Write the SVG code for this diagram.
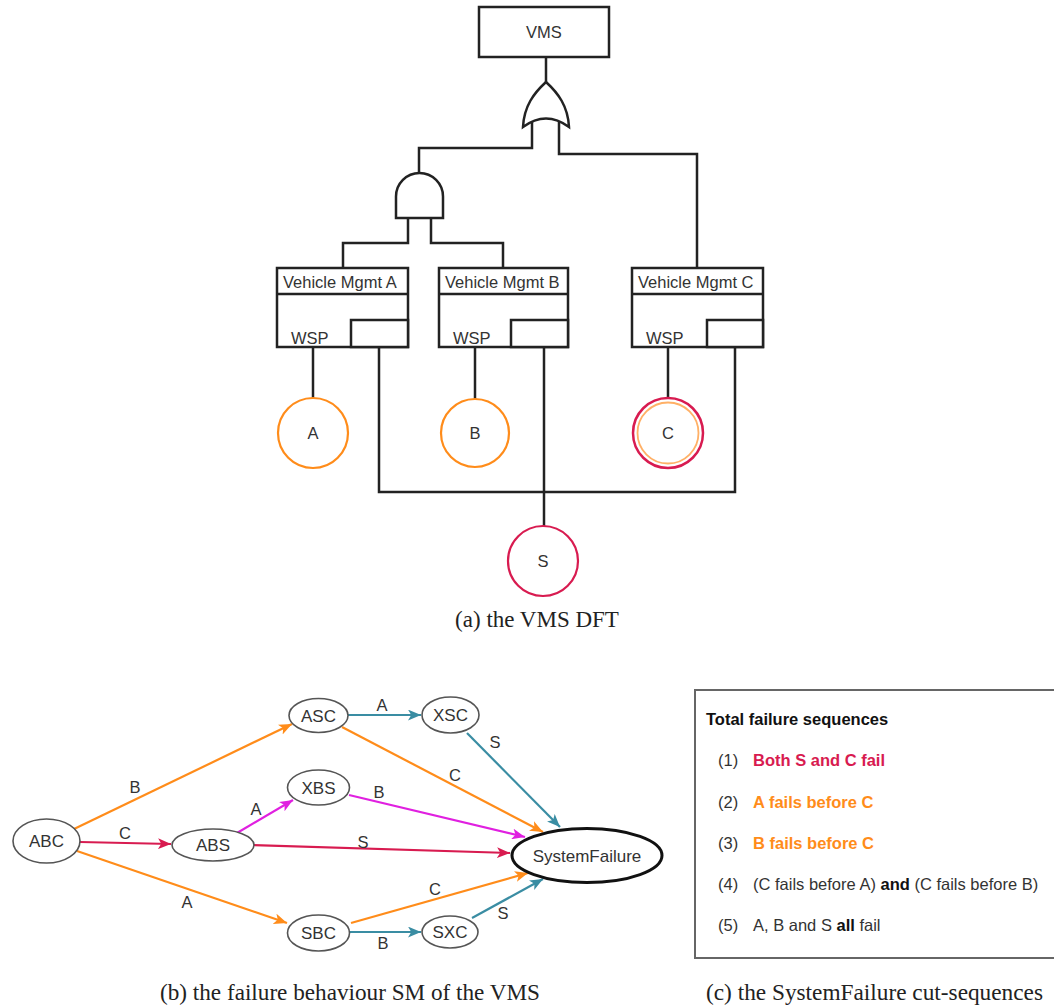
<svg xmlns="http://www.w3.org/2000/svg" width="1054" height="1008" viewBox="0 0 1054 1008">
  <style>
    .wire { fill: none; stroke: #222; stroke-width: 2.5; }
    .box { fill: #fff; stroke: #222; stroke-width: 2.5; }
    .lbl { font-family: "Liberation Sans", Arial, sans-serif; font-size: 16.5px; fill: #333; }
    .mid { text-anchor: middle; }
    .st { fill: #fff; stroke: #555; stroke-width: 1.6; }
    .stt { font-family: "Liberation Sans", Arial, sans-serif; font-size: 17px; fill: #333; text-anchor: middle; }
    .edge { fill: none; stroke-width: 2.2; }
    .el { font-family: "Liberation Sans", Arial, sans-serif; font-size: 16.5px; fill: #333; text-anchor: middle; }
    .cap { font-family: "Liberation Serif", "Times New Roman", serif; font-size: 23px; fill: #222; }
    .tb { font-family: "Liberation Sans", Arial, sans-serif; font-size: 16.5px; fill: #333; }
    .bold { font-weight: bold; }
    .dark { fill: #111; }
    .red-txt { fill: #D81B50; }
    .org-txt { fill: #FF8C1A; }
    .orange { stroke: #FF8C1A; }
    .crimson { stroke: #D81B50; }
    .magenta { stroke: #E020E0; }
    .teal { stroke: #3A8DA3; }
  </style>
  <defs>
    <marker id="ah-orange" viewBox="0 0 12 10" refX="12" refY="5" markerWidth="13" markerHeight="11" markerUnits="userSpaceOnUse" orient="auto">
      <path d="M0,0 L12,5 L0,10 L3,5 Z" fill="#FF8C1A"/>
    </marker>
    <marker id="ah-crimson" viewBox="0 0 12 10" refX="12" refY="5" markerWidth="13" markerHeight="11" markerUnits="userSpaceOnUse" orient="auto">
      <path d="M0,0 L12,5 L0,10 L3,5 Z" fill="#D81B50"/>
    </marker>
    <marker id="ah-magenta" viewBox="0 0 12 10" refX="12" refY="5" markerWidth="13" markerHeight="11" markerUnits="userSpaceOnUse" orient="auto">
      <path d="M0,0 L12,5 L0,10 L3,5 Z" fill="#E020E0"/>
    </marker>
    <marker id="ah-teal" viewBox="0 0 12 10" refX="12" refY="5" markerWidth="13" markerHeight="11" markerUnits="userSpaceOnUse" orient="auto">
      <path d="M0,0 L12,5 L0,10 L3,5 Z" fill="#3A8DA3"/>
    </marker>
  </defs>
  <rect width="1054" height="1008" fill="#fff"/>

  <!-- (a) dynamic fault tree -->
  <g id="dft-wires">
    <path class="wire" d="M546,57 V84"/>
    <path class="wire" d="M532,118 V148 H419 V174"/>
    <path class="wire" d="M559,118 V154 H697 V268"/>
    <path class="wire" d="M408,218 V243 H343 V268"/>
    <path class="wire" d="M431,218 V243 H503 V268"/>
    <path class="wire" d="M313,347 V398"/>
    <path class="wire" d="M475,347 V399"/>
    <path class="wire" d="M668,347 V398"/>
    <path class="wire" d="M379,347 V492 H735 V347"/>
    <path class="wire" d="M544,347 V526"/>
  </g>

  <g id="vms">
    <rect class="box" x="479" y="7" width="130" height="50"/>
    <text class="lbl mid" x="544" y="38">VMS</text>
  </g>

  <g id="or-gate">
    <path class="box" d="M523,127 C524,106 534,93 546,82 C558,93 568,106 569,127 Q546,110 523,127 Z"/>
  </g>

  <g id="and-gate">
    <path class="box" d="M396,218 V196.5 A23.5,23.5 0 0 1 443,196.5 V218 Z"/>
  </g>

  <g id="vm-a">
    <rect class="box" x="277" y="268" width="131" height="79"/>
    <path class="wire" d="M277,294 H408"/>
    <rect class="box" x="351" y="320" width="57" height="27"/>
    <text class="lbl" x="283" y="288">Vehicle Mgmt A</text>
    <text class="lbl" x="291" y="344">WSP</text>
  </g>

  <g id="vm-b">
    <rect class="box" x="439" y="268" width="129" height="79"/>
    <path class="wire" d="M439,294 H568"/>
    <rect class="box" x="511" y="320" width="57" height="27"/>
    <text class="lbl" x="445" y="288">Vehicle Mgmt B</text>
    <text class="lbl" x="453" y="344">WSP</text>
  </g>

  <g id="vm-c">
    <rect class="box" x="632" y="268" width="131" height="79"/>
    <path class="wire" d="M632,294 H763"/>
    <rect class="box" x="707" y="320" width="56" height="27"/>
    <text class="lbl" x="638" y="288">Vehicle Mgmt C</text>
    <text class="lbl" x="646" y="344">WSP</text>
  </g>

  <g id="event-a">
    <circle cx="313" cy="433" r="35" fill="#fff" stroke="#FF8C1A" stroke-width="2.2"/>
    <text class="lbl mid" x="313" y="439">A</text>
  </g>
  <g id="event-b">
    <circle cx="475" cy="433" r="34" fill="#fff" stroke="#FF8C1A" stroke-width="2.2"/>
    <text class="lbl mid" x="475" y="439">B</text>
  </g>
  <g id="event-c">
    <circle cx="668" cy="433" r="35" fill="#fff" stroke="#D81B50" stroke-width="2.5"/>
    <circle cx="668" cy="433" r="30.5" fill="none" stroke="#FFB066" stroke-width="1.8"/>
    <text class="lbl mid" x="668" y="439">C</text>
  </g>
  <g id="event-s">
    <circle cx="543" cy="561" r="35" fill="#fff" stroke="#D81B50" stroke-width="2.2"/>
    <text class="lbl mid" x="543" y="567">S</text>
  </g>

  <text class="cap mid" x="537" y="627">(a) the VMS DFT</text>

  <!-- (b) failure behaviour state machine -->
  <g id="sm-edges">
    <path class="edge orange" d="M74,829 L292,724" marker-end="url(#ah-orange)"/>
    <path class="edge crimson" d="M80,842 L171,844" marker-end="url(#ah-crimson)"/>
    <path class="edge orange" d="M77,851 L287,923" marker-end="url(#ah-orange)"/>
    <path class="edge magenta" d="M237,833 L293,800" marker-end="url(#ah-magenta)"/>
    <path class="edge crimson" d="M253,845 L510,853" marker-end="url(#ah-crimson)"/>
    <path class="edge magenta" d="M349,795 L525,837" marker-end="url(#ah-magenta)"/>
    <path class="edge teal" d="M348,715 L421,715" marker-end="url(#ah-teal)"/>
    <path class="edge orange" d="M342,727 L543,832" marker-end="url(#ah-orange)"/>
    <path class="edge teal" d="M467,733 L560,827" marker-end="url(#ah-teal)"/>
    <path class="edge orange" d="M351,923 L528,873" marker-end="url(#ah-orange)"/>
    <path class="edge teal" d="M350,932 L421,932" marker-end="url(#ah-teal)"/>
    <path class="edge teal" d="M472,918 L543,879" marker-end="url(#ah-teal)"/>

    <text class="el" x="135" y="793">B</text>
    <text class="el" x="125" y="839">C</text>
    <text class="el" x="187" y="908">A</text>
    <text class="el" x="256" y="815">A</text>
    <text class="el" x="363" y="848">S</text>
    <text class="el" x="379" y="798">B</text>
    <text class="el" x="382" y="711">A</text>
    <text class="el" x="455" y="781">C</text>
    <text class="el" x="495" y="748">S</text>
    <text class="el" x="435" y="895">C</text>
    <text class="el" x="383" y="949">B</text>
    <text class="el" x="503" y="919">S</text>
  </g>

  <g id="st-abc">
    <ellipse class="st" cx="46.5" cy="841" rx="33.5" ry="22"/>
    <text class="stt" x="46.5" y="847">ABC</text>
  </g>
  <g id="st-abs">
    <ellipse class="st" cx="213" cy="845" rx="41" ry="16"/>
    <text class="stt" x="213" y="851">ABS</text>
  </g>
  <g id="st-asc">
    <ellipse class="st" cx="318.5" cy="715.5" rx="29.5" ry="17"/>
    <text class="stt" x="318.5" y="721.5">ASC</text>
  </g>
  <g id="st-xbs">
    <ellipse class="st" cx="318.5" cy="787.5" rx="31" ry="17.5"/>
    <text class="stt" x="318.5" y="793.5">XBS</text>
  </g>
  <g id="st-sbc">
    <ellipse class="st" cx="318.5" cy="933" rx="31" ry="18"/>
    <text class="stt" x="318.5" y="939">SBC</text>
  </g>
  <g id="st-xsc">
    <ellipse class="st" cx="450.5" cy="715" rx="28.5" ry="18"/>
    <text class="stt" x="450.5" y="721">XSC</text>
  </g>
  <g id="st-sxc">
    <ellipse class="st" cx="450" cy="932" rx="28" ry="16"/>
    <text class="stt" x="450" y="938">SXC</text>
  </g>
  <g id="st-systemfailure">
    <ellipse cx="587" cy="855.5" rx="75" ry="27" fill="#fff" stroke="#111" stroke-width="3"/>
    <text class="stt" x="587" y="861.5">SystemFailure</text>
  </g>

  <text class="cap" x="160" y="1000" textLength="380" lengthAdjust="spacingAndGlyphs">(b) the failure behaviour SM of the VMS</text>

  <!-- (c) cut-sequence list -->
  <g id="cut-sequences">
    <rect x="695" y="690" width="362" height="268" fill="#fff" stroke="#666" stroke-width="2"/>
    <text class="tb bold dark" x="706" y="725">Total failure sequences</text>
    <text class="tb" x="718" y="766">(1)</text>
    <text class="tb bold red-txt" x="753" y="766">Both S and C fail</text>
    <text class="tb" x="718" y="808">(2)</text>
    <text class="tb bold org-txt" x="753" y="808">A fails before C</text>
    <text class="tb" x="718" y="849">(3)</text>
    <text class="tb bold org-txt" x="753" y="849">B fails before C</text>
    <text class="tb" x="718" y="890">(4)</text>
    <text class="tb" x="753" y="890">(C fails before A) <tspan class="bold dark">and</tspan> (C fails before B)</text>
    <text class="tb" x="718" y="931">(5)</text>
    <text class="tb" x="753" y="931">A, B and S <tspan class="bold dark">all</tspan> fail</text>
  </g>

  <text class="cap" x="706" y="1000" textLength="337" lengthAdjust="spacingAndGlyphs">(c) the SystemFailure cut-sequences</text>
</svg>
